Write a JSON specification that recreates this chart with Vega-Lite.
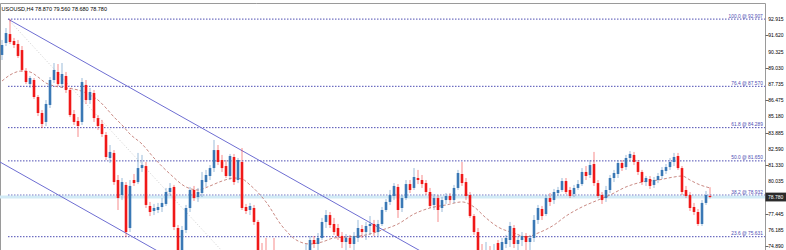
{
"$schema": "https://vega.github.io/schema/vega-lite/v6.json",
"width": 765, "height": 247,
"autosize": {"type": "none"},
"padding": {"top": 3, "left": 0, "right": 21, "bottom": 0},
"background": "white",
"config": {"view": {"stroke": "#9a9a9a", "strokeWidth": 1}, "font": "Liberation Sans"},
"title": {"text": "USOUSD,H4  78.870 79.560 78.680 78.780", "anchor": "start", "fontSize": 5.5, "fontWeight": "normal", "color": "#000", "offset": -9, "dx": 3, "font": "Liberation Sans"},
"datasets": {
"candles": [
{"i":0,"o":90.06,"h":91.25,"l":89.66,"c":90.85},
{"i":1,"o":91.01,"h":92.20,"l":90.77,"c":91.80},
{"i":2,"o":91.72,"h":92.91,"l":90.93,"c":91.09},
{"i":3,"o":91.17,"h":91.41,"l":90.61,"c":90.85},
{"i":4,"o":90.93,"h":91.25,"l":89.82,"c":89.98},
{"i":5,"o":90.45,"h":90.77,"l":88.71,"c":88.87},
{"i":6,"o":88.79,"h":89.02,"l":87.75,"c":87.91},
{"i":7,"o":87.75,"h":88.39,"l":87.44,"c":88.23},
{"i":8,"o":88.07,"h":88.23,"l":86.56,"c":86.72},
{"i":9,"o":86.72,"h":86.88,"l":85.21,"c":85.45},
{"i":10,"o":85.45,"h":85.69,"l":84.26,"c":84.58},
{"i":11,"o":84.74,"h":86.48,"l":84.42,"c":86.17},
{"i":12,"o":86.09,"h":88.31,"l":85.85,"c":88.07},
{"i":13,"o":88.07,"h":89.42,"l":87.83,"c":88.87},
{"i":14,"o":88.71,"h":89.34,"l":87.60,"c":87.75},
{"i":15,"o":87.75,"h":89.42,"l":87.44,"c":88.55},
{"i":16,"o":88.39,"h":88.71,"l":87.04,"c":87.28},
{"i":17,"o":87.28,"h":87.44,"l":85.13,"c":85.29},
{"i":18,"o":85.37,"h":85.69,"l":84.50,"c":84.74},
{"i":19,"o":84.82,"h":85.13,"l":83.55,"c":84.42},
{"i":20,"o":84.74,"h":88.23,"l":84.50,"c":87.91},
{"i":21,"o":87.68,"h":88.07,"l":86.17,"c":86.48},
{"i":22,"o":86.48,"h":87.44,"l":86.17,"c":87.12},
{"i":23,"o":87.04,"h":87.28,"l":84.74,"c":85.05},
{"i":24,"o":85.05,"h":85.29,"l":84.10,"c":84.42},
{"i":25,"o":84.58,"h":84.90,"l":83.55,"c":83.78},
{"i":26,"o":83.71,"h":83.94,"l":81.72,"c":81.96},
{"i":27,"o":81.88,"h":82.91,"l":81.48,"c":82.36},
{"i":28,"o":82.28,"h":82.51,"l":79.74,"c":79.97},
{"i":29,"o":80.13,"h":80.53,"l":77.75,"c":78.70},
{"i":30,"o":78.94,"h":80.29,"l":78.54,"c":79.97},
{"i":31,"o":79.74,"h":79.97,"l":75.61,"c":76.00},
{"i":32,"o":76.32,"h":80.13,"l":76.00,"c":79.66},
{"i":33,"o":80.13,"h":80.61,"l":79.66,"c":79.89},
{"i":34,"o":79.97,"h":82.28,"l":79.81,"c":81.08},
{"i":35,"o":81.08,"h":82.12,"l":80.77,"c":81.32},
{"i":36,"o":81.24,"h":81.56,"l":77.91,"c":78.15},
{"i":37,"o":78.07,"h":78.39,"l":77.27,"c":77.59},
{"i":38,"o":77.67,"h":78.23,"l":77.35,"c":77.91},
{"i":39,"o":77.75,"h":78.31,"l":77.51,"c":77.99},
{"i":40,"o":77.99,"h":78.70,"l":77.59,"c":78.31},
{"i":41,"o":78.23,"h":79.50,"l":78.07,"c":79.18},
{"i":42,"o":79.18,"h":79.89,"l":78.86,"c":79.50},
{"i":43,"o":79.58,"h":79.74,"l":76.16,"c":76.40},
{"i":44,"o":76.32,"h":76.56,"l":73.94,"c":74.42},
{"i":45,"o":74.57,"h":76.48,"l":74.10,"c":76.16},
{"i":46,"o":76.16,"h":78.15,"l":75.92,"c":77.91},
{"i":47,"o":77.91,"h":79.58,"l":77.59,"c":79.34},
{"i":48,"o":79.34,"h":79.66,"l":78.47,"c":78.70},
{"i":49,"o":78.78,"h":79.50,"l":78.39,"c":79.18},
{"i":50,"o":79.10,"h":80.77,"l":78.78,"c":80.13},
{"i":51,"o":79.97,"h":80.93,"l":79.58,"c":80.53},
{"i":52,"o":80.45,"h":81.32,"l":80.13,"c":81.08},
{"i":53,"o":81.08,"h":83.31,"l":80.77,"c":82.51},
{"i":54,"o":82.51,"h":82.91,"l":81.32,"c":81.56},
{"i":55,"o":81.72,"h":82.12,"l":80.77,"c":81.08},
{"i":56,"o":81.24,"h":81.72,"l":80.29,"c":80.45},
{"i":57,"o":80.45,"h":82.20,"l":80.13,"c":82.04},
{"i":58,"o":81.96,"h":82.20,"l":79.74,"c":79.97},
{"i":59,"o":80.13,"h":81.88,"l":79.89,"c":81.72},
{"i":60,"o":81.56,"h":82.67,"l":77.75,"c":77.91},
{"i":61,"o":77.99,"h":78.23,"l":77.43,"c":77.67},
{"i":62,"o":77.75,"h":78.31,"l":77.35,"c":78.07},
{"i":63,"o":77.91,"h":78.15,"l":76.56,"c":76.80},
{"i":64,"o":76.80,"h":76.96,"l":74.10,"c":74.42},
{"i":65,"o":74.42,"h":75.13,"l":72.59,"c":72.99},
{"i":66,"o":72.99,"h":75.53,"l":71.40,"c":71.80},
{"i":67,"o":71.80,"h":73.62,"l":71.24,"c":72.59},
{"i":68,"o":72.51,"h":75.53,"l":70.76,"c":71.40},
{"i":69,"o":71.40,"h":72.03,"l":70.37,"c":70.60},
{"i":70,"o":70.60,"h":72.35,"l":70.37,"c":71.56},
{"i":71,"o":71.56,"h":72.99,"l":71.00,"c":72.19},
{"i":72,"o":72.19,"h":72.83,"l":71.08,"c":71.56},
{"i":73,"o":71.56,"h":73.15,"l":71.24,"c":72.51},
{"i":74,"o":72.51,"h":73.62,"l":72.03,"c":72.99},
{"i":75,"o":72.99,"h":74.42,"l":72.51,"c":73.62},
{"i":76,"o":73.62,"h":75.05,"l":73.30,"c":74.42},
{"i":77,"o":74.42,"h":75.69,"l":74.10,"c":75.37},
{"i":78,"o":75.37,"h":75.69,"l":74.73,"c":75.05},
{"i":79,"o":75.05,"h":75.92,"l":74.57,"c":75.53},
{"i":80,"o":75.53,"h":77.12,"l":75.37,"c":76.80},
{"i":81,"o":76.80,"h":77.75,"l":76.32,"c":77.35},
{"i":82,"o":77.35,"h":77.59,"l":76.32,"c":76.56},
{"i":83,"o":76.64,"h":77.12,"l":75.77,"c":76.00},
{"i":84,"o":76.32,"h":76.64,"l":75.37,"c":75.69},
{"i":85,"o":75.69,"h":76.00,"l":74.73,"c":75.21},
{"i":86,"o":75.21,"h":75.84,"l":74.57,"c":75.53},
{"i":87,"o":75.53,"h":75.77,"l":74.73,"c":75.05},
{"i":88,"o":75.05,"h":76.00,"l":74.57,"c":75.69},
{"i":89,"o":75.53,"h":76.96,"l":75.21,"c":76.32},
{"i":90,"o":76.24,"h":76.56,"l":75.53,"c":76.00},
{"i":91,"o":76.00,"h":76.80,"l":75.37,"c":76.48},
{"i":92,"o":76.48,"h":77.27,"l":75.77,"c":76.64},
{"i":93,"o":76.64,"h":76.96,"l":75.69,"c":76.00},
{"i":94,"o":76.00,"h":76.96,"l":75.69,"c":76.64},
{"i":95,"o":76.64,"h":77.99,"l":76.48,"c":77.75},
{"i":96,"o":77.75,"h":78.62,"l":77.59,"c":78.39},
{"i":97,"o":78.39,"h":79.34,"l":78.15,"c":78.94},
{"i":98,"o":78.86,"h":79.89,"l":78.54,"c":79.66},
{"i":99,"o":79.58,"h":79.81,"l":77.12,"c":77.75},
{"i":100,"o":77.91,"h":78.94,"l":77.59,"c":78.70},
{"i":101,"o":78.70,"h":80.13,"l":78.54,"c":79.81},
{"i":102,"o":79.81,"h":80.13,"l":79.10,"c":79.34},
{"i":103,"o":79.50,"h":81.08,"l":79.34,"c":80.37},
{"i":104,"o":80.29,"h":80.93,"l":79.81,"c":80.13},
{"i":105,"o":80.13,"h":80.53,"l":79.50,"c":79.81},
{"i":106,"o":79.89,"h":80.13,"l":78.94,"c":79.18},
{"i":107,"o":79.18,"h":79.50,"l":77.91,"c":78.07},
{"i":108,"o":78.15,"h":79.02,"l":77.75,"c":78.70},
{"i":109,"o":78.70,"h":78.94,"l":76.80,"c":77.75},
{"i":110,"o":77.91,"h":78.78,"l":77.59,"c":78.54},
{"i":111,"o":78.54,"h":79.10,"l":78.23,"c":78.86},
{"i":112,"o":78.86,"h":79.10,"l":78.31,"c":78.54},
{"i":113,"o":78.54,"h":79.74,"l":78.31,"c":79.50},
{"i":114,"o":79.50,"h":80.93,"l":79.34,"c":80.69},
{"i":115,"o":80.61,"h":81.56,"l":79.66,"c":79.89},
{"i":116,"o":79.97,"h":80.29,"l":78.54,"c":78.86},
{"i":117,"o":78.94,"h":79.18,"l":77.12,"c":77.27},
{"i":118,"o":77.27,"h":77.43,"l":75.77,"c":76.00},
{"i":119,"o":76.00,"h":76.32,"l":74.26,"c":74.57},
{"i":120,"o":74.57,"h":75.05,"l":73.62,"c":74.10},
{"i":121,"o":74.10,"h":75.21,"l":73.78,"c":74.57},
{"i":122,"o":74.42,"h":74.89,"l":73.46,"c":73.94},
{"i":123,"o":73.94,"h":75.05,"l":73.62,"c":74.57},
{"i":124,"o":75.13,"h":75.37,"l":74.34,"c":74.57},
{"i":125,"o":74.57,"h":75.53,"l":74.26,"c":75.21},
{"i":126,"o":75.05,"h":75.77,"l":74.73,"c":75.53},
{"i":127,"o":75.37,"h":76.80,"l":74.81,"c":76.48},
{"i":128,"o":76.32,"h":76.56,"l":74.73,"c":75.05},
{"i":129,"o":75.05,"h":75.69,"l":74.57,"c":75.37},
{"i":130,"o":75.37,"h":76.00,"l":74.89,"c":75.69},
{"i":131,"o":75.69,"h":75.92,"l":74.57,"c":75.21},
{"i":132,"o":75.21,"h":75.77,"l":74.42,"c":75.53},
{"i":133,"o":75.53,"h":77.35,"l":75.21,"c":76.96},
{"i":134,"o":76.96,"h":78.15,"l":76.64,"c":77.91},
{"i":135,"o":77.83,"h":78.07,"l":76.96,"c":77.27},
{"i":136,"o":77.43,"h":78.94,"l":77.27,"c":78.70},
{"i":137,"o":78.70,"h":79.10,"l":78.07,"c":78.39},
{"i":138,"o":78.54,"h":79.42,"l":78.23,"c":79.18},
{"i":139,"o":79.10,"h":79.58,"l":78.86,"c":79.34},
{"i":140,"o":79.34,"h":80.29,"l":79.18,"c":80.05},
{"i":141,"o":80.05,"h":80.29,"l":79.02,"c":79.18},
{"i":142,"o":79.34,"h":79.58,"l":78.70,"c":78.86},
{"i":143,"o":79.02,"h":79.74,"l":78.78,"c":79.50},
{"i":144,"o":79.50,"h":80.13,"l":79.34,"c":79.81},
{"i":145,"o":79.81,"h":81.08,"l":79.66,"c":80.77},
{"i":146,"o":80.77,"h":81.24,"l":80.13,"c":80.45},
{"i":147,"o":80.53,"h":81.72,"l":80.29,"c":81.32},
{"i":148,"o":81.40,"h":82.36,"l":79.66,"c":79.89},
{"i":149,"o":79.89,"h":80.13,"l":78.70,"c":78.86},
{"i":150,"o":78.94,"h":79.18,"l":78.23,"c":78.54},
{"i":151,"o":78.70,"h":79.66,"l":78.39,"c":79.34},
{"i":152,"o":79.34,"h":80.53,"l":79.10,"c":80.29},
{"i":153,"o":80.29,"h":80.93,"l":79.97,"c":80.69},
{"i":154,"o":80.61,"h":81.72,"l":80.29,"c":81.48},
{"i":155,"o":81.48,"h":81.72,"l":80.85,"c":81.08},
{"i":156,"o":81.16,"h":82.12,"l":80.93,"c":81.88},
{"i":157,"o":81.88,"h":82.43,"l":81.56,"c":82.20},
{"i":158,"o":82.12,"h":82.36,"l":81.32,"c":81.56},
{"i":159,"o":81.56,"h":81.72,"l":80.53,"c":80.77},
{"i":160,"o":80.77,"h":80.93,"l":79.74,"c":79.97},
{"i":161,"o":79.97,"h":80.45,"l":79.66,"c":80.29},
{"i":162,"o":80.21,"h":80.45,"l":79.42,"c":79.66},
{"i":163,"o":79.74,"h":80.37,"l":79.50,"c":80.13},
{"i":164,"o":80.13,"h":80.69,"l":79.89,"c":80.45},
{"i":165,"o":80.45,"h":81.16,"l":80.21,"c":80.93},
{"i":166,"o":80.85,"h":81.40,"l":80.61,"c":81.16},
{"i":167,"o":81.16,"h":81.88,"l":80.93,"c":81.56},
{"i":168,"o":81.56,"h":82.28,"l":81.24,"c":81.96},
{"i":169,"o":82.04,"h":82.28,"l":80.93,"c":81.08},
{"i":170,"o":81.08,"h":81.24,"l":78.94,"c":79.18},
{"i":171,"o":79.34,"h":79.66,"l":78.70,"c":78.86},
{"i":172,"o":78.94,"h":79.18,"l":77.67,"c":77.91},
{"i":173,"o":77.99,"h":78.31,"l":77.35,"c":77.59},
{"i":174,"o":77.59,"h":77.83,"l":76.48,"c":76.64},
{"i":175,"o":76.64,"h":78.54,"l":76.48,"c":78.31},
{"i":176,"o":78.31,"h":79.26,"l":78.15,"c":78.94},
{"i":177,"o":78.87,"h":79.56,"l":78.68,"c":78.78}
],
"ma": [
{"i":0,"p":87.99},{"i":2,"p":88.47},{"i":5,"p":88.79},{"i":7,"p":88.71},{"i":9,"p":88.31},{"i":11,"p":87.83},{"i":13,"p":87.60},{"i":16,"p":87.44},{"i":19,"p":87.28},{"i":22,"p":86.88},{"i":24,"p":86.48},{"i":26,"p":85.85},{"i":28,"p":85.13},{"i":30,"p":84.50},{"i":32,"p":83.78},{"i":35,"p":82.99},{"i":38,"p":81.88},{"i":42,"p":80.61},{"i":46,"p":79.58},{"i":49,"p":79.34},{"i":52,"p":79.66},{"i":55,"p":80.05},{"i":58,"p":80.29},{"i":60,"p":80.21},{"i":62,"p":79.74},{"i":66,"p":78.39},{"i":70,"p":76.48},{"i":74,"p":75.29},{"i":77,"p":75.05},{"i":80,"p":75.21},{"i":83,"p":75.53},{"i":87,"p":75.61},{"i":91,"p":75.77},{"i":95,"p":76.16},{"i":99,"p":76.64},{"i":103,"p":77.43},{"i":107,"p":77.91},{"i":111,"p":78.15},{"i":115,"p":78.39},{"i":118,"p":77.99},{"i":121,"p":77.12},{"i":124,"p":76.40},{"i":128,"p":75.92},{"i":131,"p":75.61},{"i":134,"p":75.92},{"i":138,"p":76.56},{"i":141,"p":77.27},{"i":145,"p":77.99},{"i":149,"p":78.54},{"i":152,"p":78.94},{"i":156,"p":79.58},{"i":160,"p":79.97},{"i":164,"p":80.13},{"i":168,"p":80.37},{"i":170,"p":80.45},{"i":172,"p":80.13},{"i":174,"p":79.81},{"i":177,"p":79.50}
],
"fib": [
{"lvl":"100.0","p":92.907,"label":"100.0 @ 92.907"},
{"lvl":"76.4","p":87.570,"label":"76.4 @ 87.570"},
{"lvl":"61.8","p":84.289,"label":"61.8 @ 84.289"},
{"lvl":"50.0","p":81.650,"label":"50.0 @ 81.650"},
{"lvl":"38.2","p":78.932,"label":"38.2 @ 78.932"},
{"lvl":"23.6","p":75.631,"label":"23.6 @ 75.631"}
],
"ticks": [
{"p":92.915,"t":"92.915"},{"p":91.62,"t":"91.620"},{"p":90.325,"t":"90.325"},{"p":89.03,"t":"89.030"},{"p":87.735,"t":"87.735"},{"p":86.475,"t":"86.475"},{"p":85.18,"t":"85.180"},{"p":83.885,"t":"83.885"},{"p":82.59,"t":"82.590"},{"p":81.33,"t":"81.330"},{"p":80.035,"t":"80.035"},{"p":77.445,"t":"77.445"},{"p":76.185,"t":"76.185"},{"p":74.89,"t":"74.890"}
],
"chan": [
{"g":"upper","i":1.5,"p":92.91},{"g":"upper","i":107,"p":74.07},
{"g":"lower","i":-0.5,"p":81.56},{"g":"lower","i":42,"p":73.94}
],
"diag": [
{"i":1.5,"p":92.907},{"i":67,"p":70.37}
]
},
"layer": [
{
"data": {"name": "fib"},
"mark": {"type": "rule", "stroke": "#4d4db3", "strokeWidth": 1, "strokeDash": [1.5, 1.5], "clip": true},
"encoding": {
"x": {"datum": 1.5, "type": "quantitative", "scale": {"domain": [-0.5, 190.75], "nice": false, "zero": false}, "axis": null},
"x2": {"datum": 190.75},
"y": {"field": "p", "type": "quantitative", "scale": {"domain": [74.574, 94.186], "nice": false, "zero": false},
"axis": {"orient": "right", "values": [92.915, 91.62, 90.325, 89.03, 87.735, 86.475, 85.18, 83.885, 82.59, 81.33, 80.035, 77.445, 76.185, 74.89], "labels": false, "tickSize": 3, "tickColor": "#666", "domain": false, "grid": false, "title": null}}
}
},
{
"data": {"values": [{"p": 78.78}]},
"mark": {"type": "rule", "stroke": "#d2ebf6", "strokeWidth": 3},
"encoding": {
"y": {"field": "p", "type": "quantitative", "scale": {"domain": [74.574, 94.186], "nice": false, "zero": false}}
}
},
{
"data": {"name": "diag"},
"mark": {"type": "line", "stroke": "#cfcfcf", "strokeWidth": 1, "strokeDash": [1, 2], "clip": true},
"encoding": {
"x": {"field": "i", "type": "quantitative", "scale": {"domain": [-0.5, 190.75], "nice": false, "zero": false}, "axis": null},
"y": {"field": "p", "type": "quantitative", "scale": {"domain": [74.574, 94.186], "nice": false, "zero": false}}
}
},
{
"data": {"name": "chan"},
"mark": {"type": "line", "stroke": "#6e6ed2", "strokeWidth": 1, "clip": true},
"encoding": {
"detail": {"field": "g"},
"x": {"field": "i", "type": "quantitative", "scale": {"domain": [-0.5, 190.75], "nice": false, "zero": false}, "axis": null},
"y": {"field": "p", "type": "quantitative", "scale": {"domain": [74.574, 94.186], "nice": false, "zero": false}}
}
},
{
"data": {"name": "ma"},
"mark": {"type": "line", "stroke": "#c0766e", "strokeWidth": 1, "strokeDash": [3, 2], "opacity": 0.85, "interpolate": "monotone", "clip": true},
"encoding": {
"x": {"field": "i", "type": "quantitative", "scale": {"domain": [-0.5, 190.75], "nice": false, "zero": false}, "axis": null},
"y": {"field": "p", "type": "quantitative", "scale": {"domain": [74.574, 94.186], "nice": false, "zero": false}}
}
},
{
"data": {"name": "candles"},
"mark": {"type": "rule", "strokeWidth": 1, "opacity": 0.5, "clip": true},
"encoding": {
"x": {"field": "i", "type": "quantitative", "scale": {"domain": [-0.5, 190.75], "nice": false, "zero": false}, "axis": null},
"y": {"field": "l", "type": "quantitative", "scale": {"domain": [74.574, 94.186], "nice": false, "zero": false}},
"y2": {"field": "h"},
"color": {"condition": {"test": "datum.c >= datum.o", "value": "#3a78b5"}, "value": "#f01818"}
}
},
{
"data": {"name": "candles"},
"mark": {"type": "rule", "strokeWidth": 2.6, "clip": true},
"encoding": {
"x": {"field": "i", "type": "quantitative", "scale": {"domain": [-0.5, 190.75], "nice": false, "zero": false}, "axis": null},
"y": {"field": "o", "type": "quantitative", "scale": {"domain": [74.574, 94.186], "nice": false, "zero": false}},
"y2": {"field": "c"},
"color": {"condition": {"test": "datum.c >= datum.o", "value": "#3a78b5"}, "value": "#f01818"}
}
},
{
"data": {"name": "fib"},
"mark": {"type": "text", "align": "right", "baseline": "bottom", "dy": -0.5, "fontSize": 4.8, "font": "Liberation Sans", "color": "#4d4db3"},
"encoding": {
"x": {"datum": 190.2, "type": "quantitative", "scale": {"domain": [-0.5, 190.75], "nice": false, "zero": false}, "axis": null},
"y": {"field": "p", "type": "quantitative", "scale": {"domain": [74.574, 94.186], "nice": false, "zero": false}},
"text": {"field": "label"}
}
},
{
"data": {"name": "ticks"},
"mark": {"type": "text", "align": "left", "baseline": "middle", "fontSize": 5, "font": "Liberation Sans", "color": "#000000", "clip": false},
"encoding": {
"x": {"datum": 191.55, "type": "quantitative", "scale": {"domain": [-0.5, 190.75], "nice": false, "zero": false}, "axis": null},
"y": {"field": "p", "type": "quantitative", "scale": {"domain": [74.574, 94.186], "nice": false, "zero": false}},
"text": {"field": "t"}
}
},
{
"data": {"values": [{"p": 78.78, "t": "78.780"}]},
"layer": [
{
"mark": {"type": "rect", "color": "#2b2b2b", "clip": false},
"encoding": {
"x": {"datum": 190.85, "type": "quantitative", "scale": {"domain": [-0.5, 190.75], "nice": false, "zero": false}, "axis": null},
"x2": {"datum": 196.2},
"y": {"datum": 78.43, "type": "quantitative", "scale": {"domain": [74.574, 94.186], "nice": false, "zero": false}},
"y2": {"datum": 79.13}
}
},
{
"mark": {"type": "text", "align": "left", "baseline": "middle", "fontSize": 5, "font": "Liberation Sans", "color": "#ffffff"},
"encoding": {
"x": {"datum": 191.5, "type": "quantitative", "scale": {"domain": [-0.5, 190.75], "nice": false, "zero": false}, "axis": null},
"y": {"field": "p", "type": "quantitative", "scale": {"domain": [74.574, 94.186], "nice": false, "zero": false}},
"text": {"field": "t"}
}
}
]
}
]
}
